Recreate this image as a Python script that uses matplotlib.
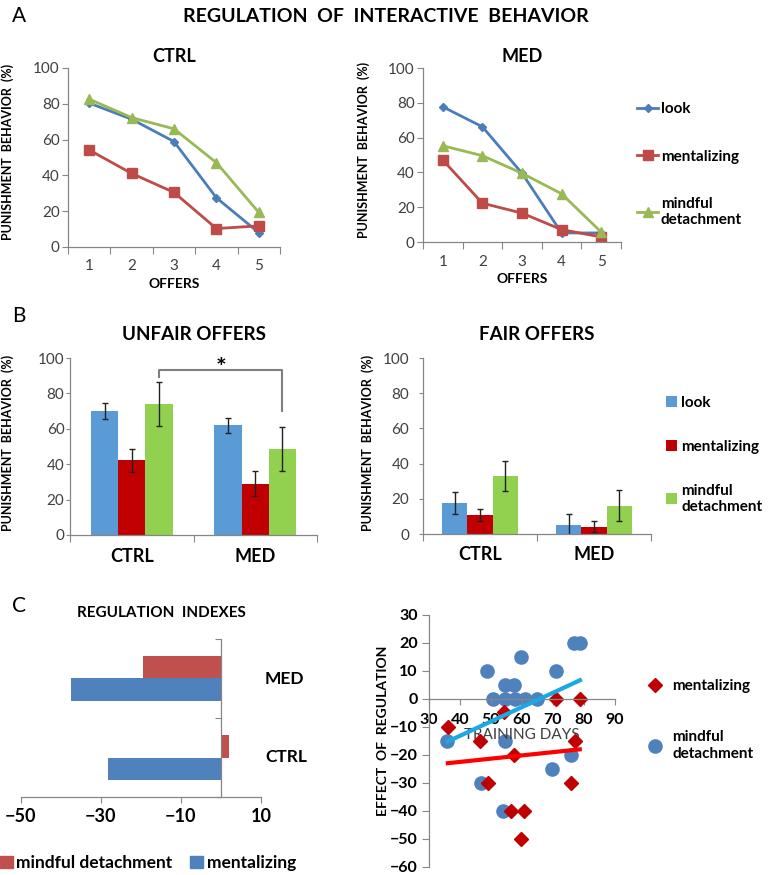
import matplotlib
matplotlib.use('Agg')
import matplotlib.pyplot as plt
from matplotlib.lines import Line2D
from matplotlib.patches import Patch
import numpy as np

plt.rcParams['font.family'] = ['Lato', 'DejaVu Sans']

# ---------------- data ----------------
offers = [1, 2, 3, 4, 5]
offer_labels = ['1', '2', '3', '4', '5']
conditions = ['look', 'mentalizing', 'mindful\ndetachment']

ctrl_look = [80.4, 71.4, 58.9, 27.5, 8.0]
ctrl_ment = [54.2, 41.1, 30.5, 10.3, 11.8]
ctrl_mind = [82.6, 72.3, 66.0, 47.1, 19.3]
med_look = [77.7, 66.2, 39.5, 5.2, 5.2]
med_ment = [47.1, 22.3, 16.6, 7.1, 2.9]
med_mind = [55.3, 49.6, 39.5, 27.7, 5.7]

groups = ['CTRL', 'MED']
unfair_look = [70.2, 61.9]
unfair_look_err = [4.6, 4.3]
unfair_ment = [42.1, 28.9]
unfair_ment_err = [6.5, 7.0]
unfair_mind = [73.8, 48.5]
unfair_mind_err = [12.5, 12.5]
fair_look = [17.5, 5.1]
fair_look_err = [6.3, 6.0]
fair_ment = [10.8, 4.2]
fair_ment_err = [3.2, 3.2]
fair_mind = [33.1, 16.1]
fair_mind_err = [8.4, 8.7]
sig_top = 93.4
sig_left_end = 89.0
sig_right_end = 69.8

index_groups = ['CTRL', 'MED']
index_mind = [2.0, -19.5]
index_ment = [-28.2, -37.6]

ment_days = [36, 46.5, 54.3, 57.5, 49, 56.5, 60.6, 59.6, 71, 78.7, 77, 75.7]
ment_effect = [-10, -15, -4.5, -20, -30, -40, -40, -50, 0, 0, -15, -30]
mind_days = [35.7, 48.6, 59.6, 54.5, 57.4, 71, 76.8, 78.7, 50.7, 54.5, 57.7,
             61, 64.9, 54.5, 75.7, 69.6, 46.7, 53.8]
mind_effect = [-15, 10, 15, 5, 5, 10, 20, 20, 0, 0, 0, 0, 0, -15, -20, -25,
               -30, -40]
trend_days = [35.4, 79.3]
trend_ment = [-23.0, -17.9]
trend_mind = [-15.5, 7.0]

# ---------------- style ----------------
A_LOOK, A_MENT, A_MIND = '#4A7EBB', '#BE4B48', '#98B954'
B_LOOK, B_MENT, B_MIND = '#5B9BD5', '#C00000', '#92D050'
C_RED, C_BLUE = '#C0504D', '#4F81BD'
SPINE = '#868686'
TICK = '#404040'

W, H = 770, 875
fig = plt.figure(figsize=(W / 100, H / 100), dpi=100)


def rect(l, t, r, b):
    return [l / W, 1 - b / H, (r - l) / W, (b - t) / H]


def style_axes(ax):
    for s in ['top', 'right']:
        ax.spines[s].set_visible(False)
    for s in ['left', 'bottom']:
        ax.spines[s].set_color(SPINE)
        ax.spines[s].set_linewidth(0.9)
    ax.tick_params(colors=SPINE, labelcolor=TICK)


# ---------------- Panel A ----------------
def line_panel(r, title, look, ment, mind, ylab_x, legend=False):
    ax = fig.add_axes(r)
    style_axes(ax)
    ax.plot(offers, look, color=A_LOOK, marker='D', ms=4.5, lw=2, label=conditions[0])
    ax.plot(offers, ment, color=A_MENT, marker='s', ms=6.5, lw=2, label=conditions[1])
    ax.plot(offers, mind, color=A_MIND, marker='^', ms=7, lw=2, label=conditions[2])
    ax.set_xlim(0.5, 5.5)
    ax.set_ylim(0, 100)
    ax.set_yticks([0, 20, 40, 60, 80, 100])
    ax.tick_params(axis='y', labelsize=11, length=4, pad=2)
    ax.set_xticks(np.arange(0.5, 5.6, 1))
    ax.set_xticklabels([])
    ax.set_xticks(offers, minor=True)
    ax.set_xticklabels(offer_labels, minor=True)
    ax.tick_params(axis='x', which='major', length=5)
    ax.tick_params(axis='x', which='minor', length=0, pad=9, labelsize=11, labelcolor=TICK)
    ax.set_xlabel('OFFERS', fontsize=10, fontweight='bold', labelpad=3)
    ax.set_ylabel('PUNISHMENT  BEHAVIOR  (%)', fontsize=9, fontweight='bold')
    ax.yaxis.set_label_coords(ylab_x, 0.53)
    ax.set_title(title, fontsize=13, fontweight='bold', pad=4)
    if legend:
        ax.legend(loc='upper left', bbox_to_anchor=(637 / W, 1 - 102 / H),
                  bbox_transform=fig.transFigure, frameon=False,
                  prop={'weight': 'bold', 'size': 11}, handlelength=1.4,
                  handletextpad=0.15, labelspacing=2.2, borderpad=0,
                  borderaxespad=0)
    return ax


line_panel(rect(68, 68, 280, 247), 'CTRL', ctrl_look, ctrl_ment, ctrl_mind, -0.255)
line_panel(rect(423, 68, 621, 242), 'MED', med_look, med_ment, med_mind, -0.27, legend=True)

fig.text(386 / W, 1 - 16 / H, 'REGULATION  OF  INTERACTIVE  BEHAVIOR', ha='center',
         va='center', fontsize=14, fontweight='bold')
fig.text(12 / W, 1 - 16 / H, 'A', ha='left', va='center', fontsize=15)
fig.text(12 / W, 1 - 316 / H, 'B', ha='left', va='center', fontsize=15)
fig.text(12 / W, 1 - 606 / H, 'C', ha='left', va='center', fontsize=15)


# ---------------- Panel B ----------------
def bar_panel(r, title, look, lerr, ment, merr, mind, derr, ylab_x, ypad, legend=False):
    ax = fig.add_axes(r)
    style_axes(ax)
    x = np.arange(len(groups))
    w = 0.22
    ekw = dict(ecolor='#222222', capsize=2.5, elinewidth=1, capthick=1)
    ax.bar(x - w, look, w, yerr=lerr, color=B_LOOK, label=conditions[0], error_kw=ekw)
    ax.bar(x, ment, w, yerr=merr, color=B_MENT, label=conditions[1], error_kw=ekw)
    ax.bar(x + w, mind, w, yerr=derr, color=B_MIND, label=conditions[2], error_kw=ekw)
    ax.set_xlim(-0.5, 1.5)
    ax.set_ylim(0, 100)
    ax.set_yticks([0, 20, 40, 60, 80, 100])
    ax.tick_params(axis='y', labelsize=11, length=3, pad=ypad)
    ax.set_xticks([-0.5, 0.5, 1.5])
    ax.set_xticklabels([])
    ax.set_xticks(x, minor=True)
    ax.set_xticklabels(groups, minor=True)
    ax.tick_params(axis='x', which='major', length=5)
    ax.tick_params(axis='x', which='minor', length=0, pad=9, labelsize=13,
                   labelcolor='black')
    for lab in ax.get_xticklabels(minor=True):
        lab.set_fontweight('bold')
    ax.set_ylabel('PUNISHMENT  BEHAVIOR  (%)', fontsize=9, fontweight='bold')
    ax.yaxis.set_label_coords(ylab_x, 0.52)
    ax.set_title(title, fontsize=13.5, fontweight='bold', pad=13)
    if legend:
        ax.legend(loc='upper left', bbox_to_anchor=(666 / W, 1 - 396 / H),
                  bbox_transform=fig.transFigure, frameon=False,
                  prop={'weight': 'bold', 'size': 11}, handlelength=0.7,
                  handleheight=0.7, handletextpad=0.3, labelspacing=1.95,
                  borderpad=0, borderaxespad=0)
    return ax, x, w


axu, xu, wu = bar_panel(rect(70, 358, 317, 535), 'UNFAIR OFFERS', unfair_look, unfair_look_err,
                        unfair_ment, unfair_ment_err, unfair_mind, unfair_mind_err, -0.227, 1)
xl, xr = xu[0] + wu, xu[1] + wu
axu.plot([xl, xl, xr, xr], [sig_left_end, sig_top, sig_top, sig_right_end],
         color='#7F7F7F', lw=1.5, clip_on=False)
axu.text((xl + xr) / 2, sig_top - 3.5, '*', ha='center', va='baseline', fontsize=18,
         fontweight='bold')

bar_panel(rect(423, 358, 651, 534), 'FAIR OFFERS', fair_look, fair_look_err,
          fair_ment, fair_ment_err, fair_mind, fair_mind_err, -0.215, 7, legend=True)

# ---------------- Panel C left ----------------
axc = fig.add_axes(rect(21, 639, 261, 797))
style_axes(axc)
yc = np.arange(len(index_groups))
h = 0.28
axc.barh(yc + h / 2, index_mind, h, color=C_RED, label='mindful detachment')
axc.barh(yc - h / 2, index_ment, h, color=C_BLUE, label='mentalizing')
axc.set_xlim(-50, 10)
axc.set_ylim(-0.5, 1.5)
axc.spines['left'].set_position(('data', 0))
axc.set_xticks([-50, -30, -10, 10])
axc.tick_params(axis='x', labelsize=13, length=4, pad=4, labelcolor='black')
for lab in axc.get_xticklabels():
    lab.set_fontweight('bold')
axc.set_yticks([-0.5, 0.5, 1.5])
axc.set_yticklabels([])
axc.tick_params(axis='y', length=4)
for yi, g in zip(yc, index_groups):
    axc.text(1.017, yi, g, transform=axc.get_yaxis_transform(), ha='left',
             va='center', fontsize=12.5, fontweight='bold')
axc.set_title('REGULATION  INDEXES', fontsize=11, fontweight='bold', x=0.583, pad=16)
fig.legend(handles=[Patch(color=C_RED), Patch(color=C_BLUE)],
           labels=['mindful detachment', 'mentalizing'], loc='center left',
           bbox_to_anchor=(0.0, 1 - 863 / H), frameon=False, ncol=2,
           prop={'weight': 'bold', 'size': 12.5}, handlelength=0.75,
           handleheight=0.75, handletextpad=0.2, columnspacing=1.0,
           borderpad=0, borderaxespad=0)

# ---------------- Panel C right ----------------
axs = fig.add_axes(rect(429, 615, 615, 867))
style_axes(axs)
axs.plot(trend_days, trend_mind, color='#1AA9E3', lw=3, solid_capstyle='butt', zorder=3)
axs.plot(trend_days, trend_ment, color='#FF0000', lw=3, solid_capstyle='butt', zorder=3)
axs.plot(ment_days, ment_effect, 'D', color='#C00000', ms=7, ls='none', zorder=2,
         label='mentalizing')
axs.plot(mind_days, mind_effect, 'o', color=C_BLUE, ms=9.5, ls='none', zorder=1,
         label='mindful\ndetachment')
axs.set_xlim(30, 90)
axs.set_ylim(-60, 30)
axs.spines['bottom'].set_position(('data', 0))
axs.set_xticks(np.arange(30, 91, 10))
axs.set_yticks(np.arange(-60, 31, 10))
axs.tick_params(axis='y', labelsize=11.5, length=5, pad=3, labelcolor='black')
axs.tick_params(axis='x', labelsize=11.5, length=4, pad=6, labelcolor='black')
for lab in axs.get_xticklabels() + axs.get_yticklabels():
    lab.set_fontweight('bold')
axs.set_xlabel('TRAINING DAYS', fontsize=11, color=TICK, labelpad=1)
axs.set_ylabel('EFFECT  OF  REGULATION', fontsize=10, fontweight='bold')
axs.yaxis.set_label_coords(-0.215, 0.54)
axs.legend(loc='upper left', bbox_to_anchor=(643 / W, 1 - 679 / H),
           bbox_transform=fig.transFigure, frameon=False,
           prop={'weight': 'bold', 'size': 11}, handlelength=1.6,
           handletextpad=0.3, labelspacing=2.45, borderpad=0, borderaxespad=0)

fig.savefig('out.png', dpi=100)
